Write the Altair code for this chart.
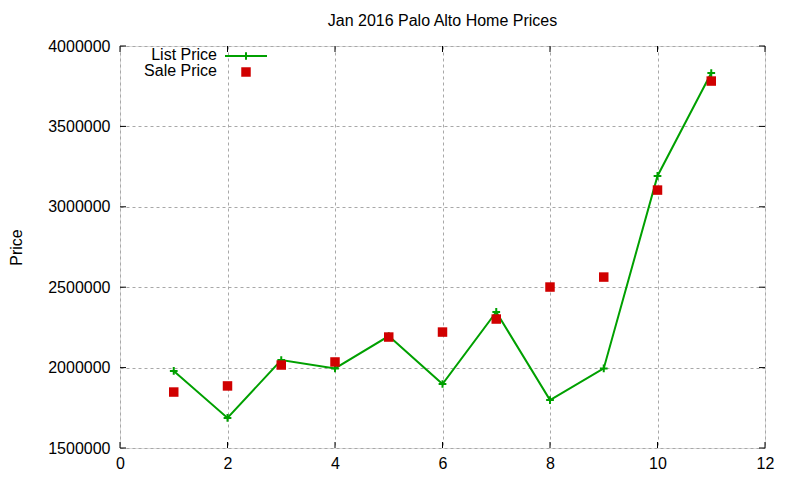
import altair as alt
import pandas as pd

months = [1, 2, 3, 4, 5, 6, 7, 8, 9, 10, 11]
list_price = [1979000, 1687000, 2047000, 1995000, 2196000, 1898000, 2346000, 1798000, 1995000, 3192000, 3832000]
sale_price = [1848000, 1886000, 2016000, 2035000, 2190000, 2221000, 2302000, 2501000, 2563000, 3104000, 3782000]
x_ticks = [0, 2, 4, 6, 8, 10, 12]
y_ticks = [1500000, 2000000, 2500000, 3000000, 3500000, 4000000]

W, H = 645, 402
FONT = "Liberation Sans"
GREEN = "#00a000"
RED = "#d00000"

df = pd.DataFrame({"month": months, "list": list_price, "sale": sale_price})
xt = pd.DataFrame({"v": x_ticks})
yt = pd.DataFrame({"v": y_ticks})

xscale = alt.Scale(domain=[0, 12], nice=False, zero=False)
yscale = alt.Scale(domain=[1500000, 4000000], nice=False, zero=False)

xaxis = alt.Axis(values=x_ticks, format="d", grid=True, gridDash=[3, 3], gridColor="#a8a8a8",
                 gridWidth=1, tickSize=0, domain=False, labelPadding=7, labelFontSize=16,
                 labelFont=FONT, labelColor="black", labelFlush=False, title=None)
yaxis = alt.Axis(values=y_ticks, format="d", grid=True, gridDash=[3, 3], gridColor="#a8a8a8",
                 gridWidth=1, tickSize=0, domain=False, labelPadding=10, labelFontSize=16,
                 labelFont=FONT, labelColor="black", labelFlush=False, title="Price",
                 titleFont=FONT, titleFontSize=16, titleFontWeight="normal", titleColor="black",
                 titleX=-104, titleY=H / 2, titleAngle=-90, titleAlign="center",
                 titleBaseline="middle")

base = alt.Chart(df)

line = base.mark_line(color=GREEN, strokeWidth=2).encode(
    x=alt.X("month:Q", scale=xscale, axis=xaxis),
    y=alt.Y("list:Q", scale=yscale, axis=yaxis),
)
plus = base.mark_point(shape="M-1,0L1,0M0,-1L0,1", size=60, color=GREEN, strokeWidth=2,
                       filled=False, opacity=1).encode(
    x=alt.X("month:Q", scale=xscale),
    y=alt.Y("list:Q", scale=yscale),
)
squares = base.mark_square(size=90, color=RED, opacity=1).encode(
    x=alt.X("month:Q", scale=xscale),
    y=alt.Y("sale:Q", scale=yscale),
)

# inward ticks (gnuplot style)
xb = alt.Chart(xt).mark_rule(color="black", strokeWidth=1).encode(
    x=alt.X("v:Q", scale=xscale), y=alt.value(H), y2=alt.value(H - 6))
xtop = alt.Chart(xt).mark_rule(color="black", strokeWidth=1).encode(
    x=alt.X("v:Q", scale=xscale), y=alt.value(0), y2=alt.value(6))
yl = alt.Chart(yt).mark_rule(color="black", strokeWidth=1).encode(
    y=alt.Y("v:Q", scale=yscale), x=alt.value(0), x2=alt.value(6))
yr = alt.Chart(yt).mark_rule(color="black", strokeWidth=1).encode(
    y=alt.Y("v:Q", scale=yscale), x=alt.value(W), x2=alt.value(W - 6))

one = pd.DataFrame({"a": [0]})
leg_t1 = alt.Chart(one).mark_text(text="List Price", align="right", baseline="middle",
                                  font=FONT, fontSize=16, color="black").encode(
    x=alt.value(97), y=alt.value(9))
leg_t2 = alt.Chart(one).mark_text(text="Sale Price", align="right", baseline="middle",
                                  font=FONT, fontSize=16, color="black").encode(
    x=alt.value(97), y=alt.value(25))
leg_line = alt.Chart(one).mark_rule(color=GREEN, strokeWidth=2).encode(
    x=alt.value(105), x2=alt.value(147), y=alt.value(10))
leg_plus = alt.Chart(one).mark_point(shape="M-1,0L1,0M0,-1L0,1", size=60, color=GREEN,
                                     strokeWidth=2, filled=False, opacity=1).encode(
    x=alt.value(126), y=alt.value(10))
leg_sq = alt.Chart(one).mark_square(size=90, color=RED, opacity=1).encode(
    x=alt.value(126), y=alt.value(26))

chart = alt.layer(line, plus, squares, xb, xtop, yl, yr,
                  leg_t1, leg_t2, leg_line, leg_plus, leg_sq).properties(
    width=W, height=H,
    title=alt.TitleParams("Jan 2016 Palo Alto Home Prices", font=FONT, fontSize=16,
                          fontWeight="normal", color="black", anchor="middle", offset=9),
    autosize=alt.AutoSizeParams(type="none"),
    padding={"left": 112, "top": 38, "right": 27, "bottom": 26},
).configure_view(stroke="black", strokeWidth=1).configure(background="white")

chart.save("out.html", embed_options={"renderer": "svg", "actions": False})
